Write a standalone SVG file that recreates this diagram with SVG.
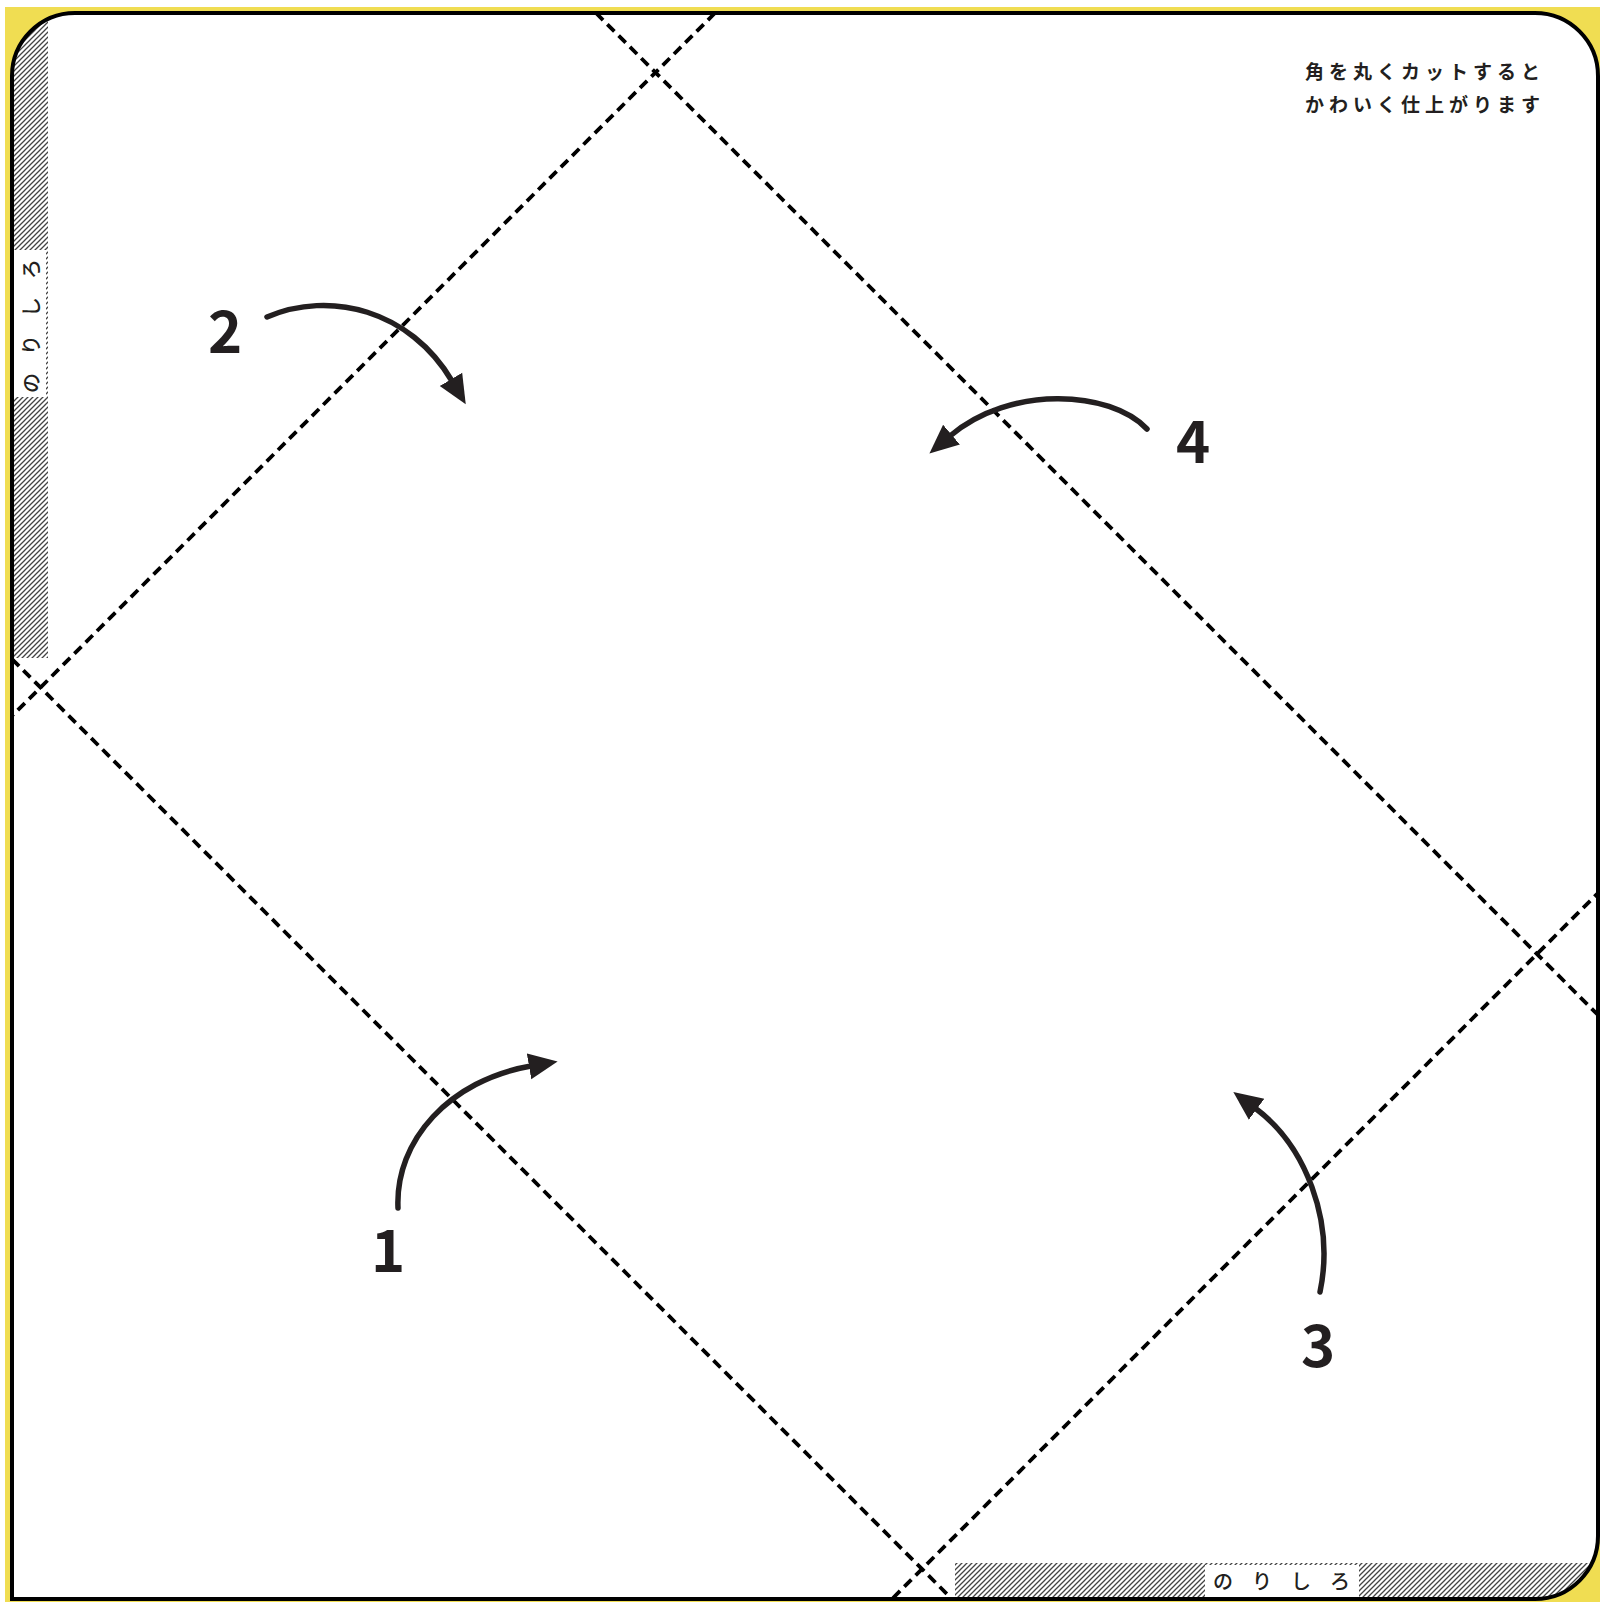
<svg xmlns="http://www.w3.org/2000/svg" width="1600" height="1602" viewBox="0 0 1600 1602">
  <style>
    .fold { fill: none; stroke: #000; stroke-width: 3.8; stroke-dasharray: 10 6; }
    .arrow { fill: none; stroke: #231f20; stroke-width: 5.5; stroke-linecap: round; }
    .num { font-family: "Noto Sans CJK JP", "Noto Sans", sans-serif; font-weight: 700; font-size: 58px; fill: #231f20; text-anchor: middle; }
    .note { font-family: "Noto Sans CJK JP", sans-serif; font-weight: 700; font-size: 19px; fill: #231f20; letter-spacing: 5px; }
    .glue { font-family: "Noto Sans CJK JP", sans-serif; font-weight: 500; font-size: 20px; fill: #231f20; }
  </style>
  <defs>
    <pattern id="hatch" patternUnits="userSpaceOnUse" width="5" height="5">
      <path d="M-1,1 L1,-1 M0,5 L5,0 M4,6 L6,4" stroke="#444" stroke-width="1.3"/>
    </pattern>
    <clipPath id="sheet">
      <path d="M12,1599 L12,76 A63,63 0 0 1 75,13 L1535,13 A63,63 0 0 1 1598,76 L1598,1536 A63,63 0 0 1 1535,1599 Z"/>
    </clipPath>
    <marker id="head" markerUnits="userSpaceOnUse" markerWidth="34" markerHeight="30" refX="2" refY="0" viewBox="0 -15 34 30" orient="auto">
      <path d="M0,-13 L29,0 L0,13 Z" fill="#231f20"/>
    </marker>
  </defs>

  <rect x="5" y="7" width="1595" height="1595" fill="#f0dd52"/>
  <path id="sheet-fill" d="M12,1599 L12,76 A63,63 0 0 1 75,13 L1535,13 A63,63 0 0 1 1598,76 L1598,1536 A63,63 0 0 1 1535,1599 Z" fill="#fff"/>

  <g id="glue-left" clip-path="url(#sheet)">
    <rect x="12" y="13" width="36" height="645" fill="url(#hatch)"/>
    <rect x="13" y="250" width="33" height="147" fill="#fff"/>
    <text class="glue" transform="translate(38.5,325) rotate(-90)" x="8" y="0" text-anchor="middle" letter-spacing="18">のりしろ</text>
  </g>

  <g id="glue-bottom" clip-path="url(#sheet)">
    <rect x="955" y="1563" width="645" height="39" fill="url(#hatch)"/>
    <rect x="1205" y="1565" width="154" height="34" fill="#fff"/>
    <text class="glue" x="1291" y="1589" text-anchor="middle" letter-spacing="19">のりしろ</text>
  </g>

  <g id="folds" clip-path="url(#sheet)">
    <line class="fold" x1="715" y1="13" x2="13" y2="715"/>
    <line class="fold" x1="596" y1="13" x2="1598" y2="1015"/>
    <line class="fold" x1="12" y1="659" x2="951" y2="1598"/>
    <line class="fold" x1="893" y1="1598" x2="1598" y2="893"/>
  </g>

  <path id="sheet-border" d="M12,1599 L12,76 A63,63 0 0 1 75,13 L1535,13 A63,63 0 0 1 1598,76 L1598,1536 A63,63 0 0 1 1535,1599 Z" fill="none" stroke="#000" stroke-width="4"/>

  <g id="connectors">
    <path class="arrow" d="M267,317 C330,290 410,310 452,381" marker-end="url(#head)"/>
    <path class="arrow" d="M1147,429 C1110,390 1010,385 950,436" marker-end="url(#head)"/>
    <path class="arrow" d="M398,1208 C395,1140 450,1080 531,1066" marker-end="url(#head)"/>
    <path class="arrow" d="M1320,1292 C1335,1220 1305,1145 1255,1108" marker-end="url(#head)"/>
  </g>

  <g id="step-1"><text class="num" x="388" y="1272">1</text></g>
  <g id="step-2"><text class="num" x="225" y="353">2</text></g>
  <g id="step-3"><text class="num" x="1318" y="1367">3</text></g>
  <g id="step-4"><text class="num" x="1193" y="463">4</text></g>

  <g id="note">
    <text class="note" x="1305" y="78.5">角を丸くカットすると</text>
    <text class="note" x="1305" y="111.5">かわいく仕上がります</text>
  </g>
</svg>
